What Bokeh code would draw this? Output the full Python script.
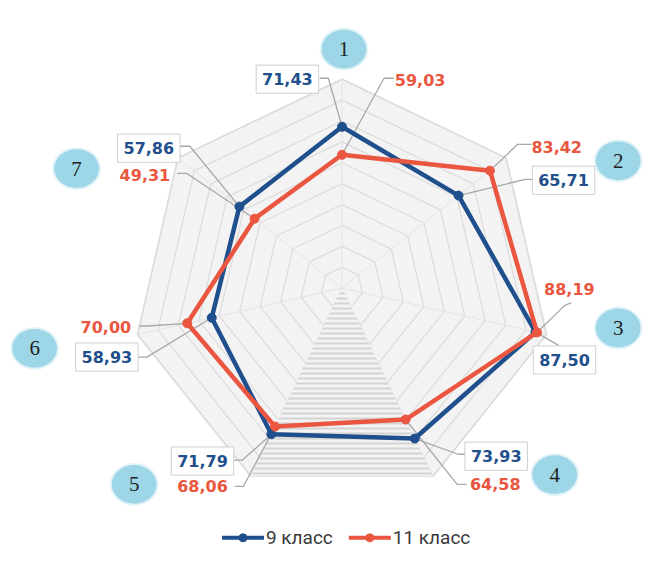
import math
from bokeh.plotting import figure
from bokeh.models import Range1d
from bokeh.core.properties import value
from bokeh.embed import file_html
from bokeh.resources import INLINE

# ---------------- data ----------------
axis_names = ["1", "2", "3", "4", "5", "6", "7"]
grade9 = [71.43, 65.71, 87.50, 73.93, 71.79, 58.93, 57.86]
grade11 = [59.03, 83.42, 88.19, 64.58, 68.06, 70.00, 49.31]
series_names = ["9 класс", "11 класс"]
r_max = 92.5
n_rings = 10

# ---------------- style ----------------
BLUE = "#1f4f8c"
RED = "#ea5640"
LEADER = "#a8a8a8"
BADGE = "#9dd7e7"

W, H = 645, 548
p = figure(width=W, height=H, x_range=Range1d(0, 661), y_range=Range1d(564, 0),
           output_backend="svg", toolbar_location=None, min_border=0)
p.axis.visible = False
p.grid.visible = False
p.outline_line_color = None
p.background_fill_color = "white"
p.border_fill_color = "white"

cx, cy, R = 350, 296, 215
k = R / r_max
n = len(axis_names)
ang = [2 * math.pi * i / n for i in range(n)]


def pt(i, r):
    return cx + r * math.sin(ang[i]), cy - r * math.cos(ang[i])


# ---------------- grid ----------------
outer = [pt(i, R) for i in range(n)]
p.patch([q[0] for q in outer], [q[1] for q in outer], fill_color="#f3f3f3",
        line_color="#dadada", line_width=1.5)

ring_xs, ring_ys = [], []
for j in range(1, n_rings + 1):
    rr = R * j / n_rings
    pts = [pt(i, rr) for i in range(n)] + [pt(0, rr)]
    ring_xs.append([q[0] for q in pts])
    ring_ys.append([q[1] for q in pts])
p.multi_line(ring_xs, ring_ys, line_color="#dddddd", line_width=1.3)

spoke_xs = [[cx, pt(i, R)[0]] for i in range(n)]
spoke_ys = [[cy, pt(i, R)[1]] for i in range(n)]
p.multi_line(spoke_xs, spoke_ys, line_color="#e4e4e4", line_width=1)

# hatched sector between axes 4 and 5
v4, v5 = pt(3, R), pt(4, R)
p.patch([cx, v4[0], v5[0]], [cy, v4[1], v5[1]], fill_color="#f3f3f3",
        hatch_pattern="horizontal_line", hatch_color="#d3d3d3",
        hatch_scale=5, hatch_weight=2, line_color=None)

# ---------------- leader lines & labels ----------------
# layout: (label centre x, y, leader start x, y, elbow x, y)
blue_layout = [
    (294, 81, 327, 80, 336, 80),
    (577, 185, 545, 184, 538, 184),
    (578, 370, 572, 355, 572, 355),
    (508, 469, 476, 467, 469, 467),
    (207, 474, 239, 473, 248, 473),
    (109, 367, 140, 367, 150, 367),
    (152, 152, 184, 150, 194, 150),
]
red_layout = [
    (430, 82, 403, 80, 393, 80),
    (570, 151, 544, 148, 530, 148),
    (583, 297, 585, 311, 578, 314),
    (507, 498, 478, 498, 468, 498),
    (207, 500, 240, 500, 249, 500),
    (108, 336, 142, 335, 150, 335),
    (148, 180, 181, 178, 191, 178),
]


def fmt(v):
    return f"{v:.2f}".replace(".", ",")


def leaders(vals, layout):
    xs, ys = [], []
    for i, v in enumerate(vals):
        px, py = pt(i, v * k)
        _, _, sx, sy, ex, ey = layout[i]
        xs.append([sx, ex, px])
        ys.append([sy, ey, py])
    return xs, ys


lx, ly = leaders(grade9, blue_layout)
p.multi_line(lx, ly, line_color=LEADER, line_width=1.3)
lx, ly = leaders(grade11, red_layout)
p.multi_line(lx, ly, line_color=LEADER, line_width=1.3)

# blue label boxes
p.rect([b[0] for b in blue_layout], [b[1] for b in blue_layout], width=64, height=29,
       fill_color="white", line_color="#cfcfcf", line_width=1)

font = value("DejaVu Sans")
p.text([b[0] for b in blue_layout], [b[1] for b in blue_layout], text=[fmt(v) for v in grade9],
       text_align="center", text_baseline="middle", text_font=font, text_font_style="bold",
       text_font_size="16px", text_color=BLUE)
p.text([b[0] for b in red_layout], [b[1] for b in red_layout], text=[fmt(v) for v in grade11],
       text_align="center", text_baseline="middle", text_font=font, text_font_style="bold",
       text_font_size="16px", text_color=RED)

# ---------------- series ----------------
for vals, col in ((grade9, BLUE), (grade11, RED)):
    pts = [pt(i, v * k) for i, v in enumerate(vals)]
    xs = [q[0] for q in pts]
    ys = [q[1] for q in pts]
    p.line(xs + xs[:1], ys + ys[:1], line_color=col, line_width=4.5)
    p.scatter(xs, ys, size=9, fill_color=col, line_color=col)

# ---------------- badges ----------------
badge_pos = [(352, 50), (633, 165), (633, 337), (568, 488), (137, 498), (35, 358), (78, 173)]
bx = [b[0] for b in badge_pos]
by = [b[1] for b in badge_pos]
p.ellipse(bx, by, width=50, height=44, fill_color=BADGE, fill_alpha=0.3, line_color=None)
p.ellipse(bx, by, width=46, height=40, fill_color=BADGE, line_color=None)
p.text(bx, by, text=axis_names, text_align="center", text_baseline="middle",
       text_font=value("Liberation Serif"), text_font_size="21px", text_color="#222222")

# ---------------- legend ----------------
ly0 = 553
for (x0, x1), name, col in (((227, 270), series_names[0], BLUE), ((357, 400), series_names[1], RED)):
    p.line([x0, x1], [ly0, ly0], line_color=col, line_width=4)
    p.scatter([(x0 + x1) / 2], [ly0], size=8, fill_color=col, line_color=col)
    p.text([x1 + 2], [ly0], text=[name], text_align="left", text_baseline="middle",
           text_font=value("Roboto"), text_font_size="19px", text_color="#3a3a3a")

open("out.html", "w").write(file_html(p, INLINE))
